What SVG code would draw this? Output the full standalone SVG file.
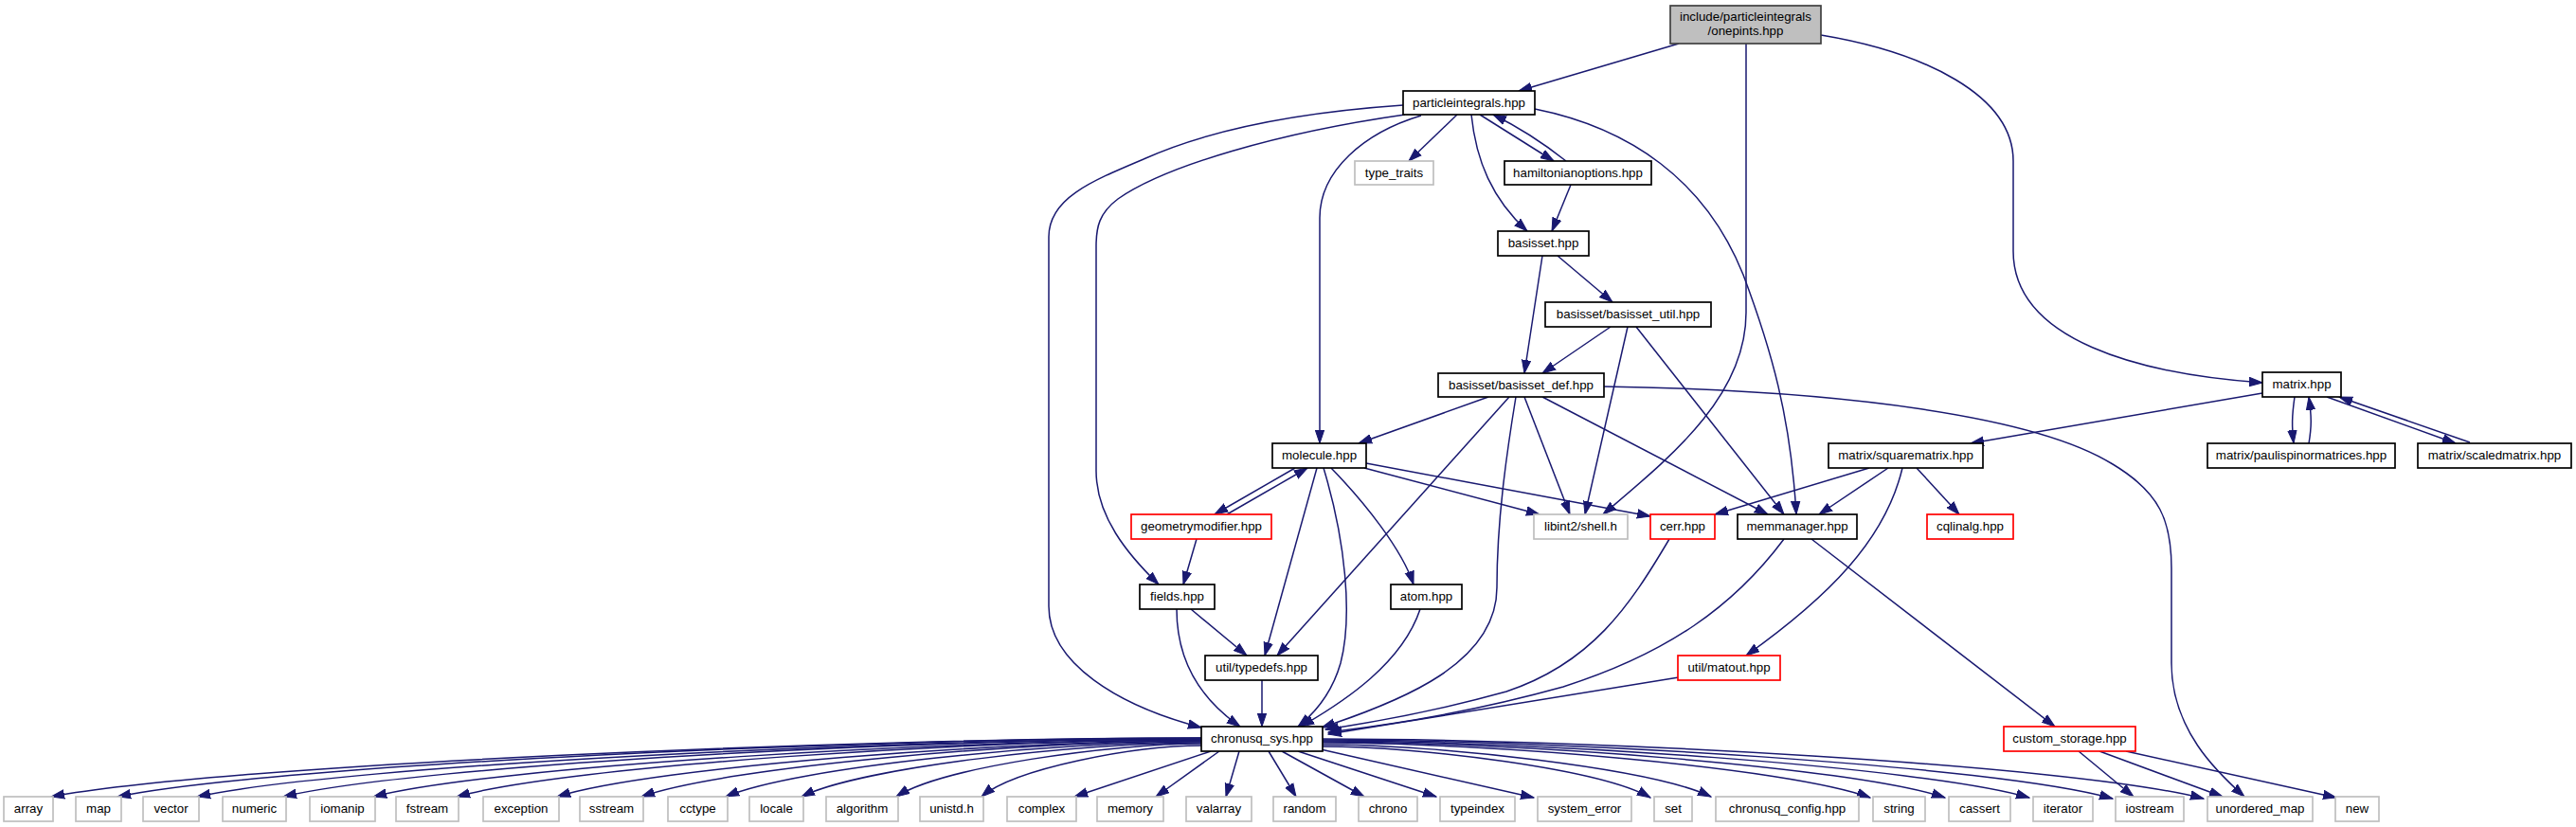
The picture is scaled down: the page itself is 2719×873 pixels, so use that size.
<svg xmlns="http://www.w3.org/2000/svg" width="2719" height="873" viewBox="0 0 2719 873">
<style>
.e path{fill:none;stroke:#191970;stroke-width:1.5;marker-end:url(#a)}
.n rect{fill:#fff;stroke:#000;stroke-width:1.7}
.g rect{stroke:#bfbfbf}
.r rect{stroke:#ff0000}
.root rect{fill:#bfbfbf;stroke:#404040}
text{font-family:"Liberation Sans",Arial,Helvetica,sans-serif;font-size:13.3px;text-anchor:middle;fill:#000}
</style>
<defs>
<marker id="a" markerWidth="15" markerHeight="11" refX="14" refY="5.5" orient="auto" markerUnits="userSpaceOnUse">
<path d="M0,0.8 L14,5.5 L0,10.2 z" fill="#191970" stroke="#191970" stroke-width="1"/>
</marker>
</defs>
<rect width="2719" height="873" fill="#fff"/>
<g id="edges" class="e">
<path d="M1772,46 L1603,96"/>
<path d="M1843,46 L1843,330 C1843,420 1760,485 1692,543"/>
<path d="M1922,37 C2030,55 2125,100 2125,170 L2125,265 C2125,360 2260,395 2388,404"/>
<path d="M1538,121 L1487,170"/>
<path d="M1562,121 L1640,170"/>
<path d="M1653,170 Q1615,140 1576,121"/>
<path d="M1553,121 C1558,170 1575,210 1612,244"/>
<path d="M1658,195 L1638,244"/>
<path d="M1620,115 C1720,135 1800,190 1840,290 C1870,370 1890,440 1896,543"/>
<path d="M1481,111 C1380,118 1280,135 1207,168 C1150,192 1107,210 1107,250 L1107,640 C1107,700 1180,745 1268,768"/>
<path d="M1483,121 C1350,140 1230,175 1180,210 C1160,225 1157,240 1157,260 L1157,497 C1157,545 1190,585 1223,617"/>
<path d="M1500,122 C1440,140 1393,180 1393,230 L1393,468"/>
<path d="M1628,270 L1609,394"/>
<path d="M1644,270 L1702,319"/>
<path d="M1700,345 L1628,394"/>
<path d="M1718,345 L1673,543"/>
<path d="M1727,345 L1883,543"/>
<path d="M1571,419 L1434,468"/>
<path d="M1609,419 L1657,543"/>
<path d="M1628,419 L1866,543"/>
<path d="M1593,419 L1348,692"/>
<path d="M1600,419 C1590,480 1580,550 1580,620 C1580,700 1480,740 1395,768"/>
<path d="M1692,408 C1950,412 2150,440 2230,490 C2280,520 2292,550 2292,600 L2292,700 C2292,770 2340,815 2369,841"/>
<path d="M1367,494 L1282,543"/>
<path d="M1295,543 L1380,494"/>
<path d="M1440,494 L1625,543"/>
<path d="M1442,489 L1742,545"/>
<path d="M1390,494 L1335,692"/>
<path d="M1397,494 C1420,570 1428,650 1415,700 C1405,735 1385,755 1370,767"/>
<path d="M1405,494 C1440,530 1480,580 1492,617"/>
<path d="M1263,569 L1249,617"/>
<path d="M1257,643 L1316,692"/>
<path d="M1242,643 C1242,700 1270,740 1309,767"/>
<path d="M1499,643 C1480,700 1420,740 1373,767"/>
<path d="M1332,718 L1332,767"/>
<path d="M1762,569 C1720,640 1680,700 1590,730 Q1500,755 1399,770"/>
<path d="M1883,569 C1830,640 1760,690 1650,725 C1560,750 1470,765 1402,773"/>
<path d="M1772,715 L1402,775"/>
<path d="M1912,569 L2169,767"/>
<path d="M2388,415 L2080,468"/>
<path d="M2422,419 C2419,440 2419,450 2421,468"/>
<path d="M2437,468 C2440,450 2440,440 2437,419"/>
<path d="M2456,419 L2592,468"/>
<path d="M2607,467 L2469,419"/>
<path d="M1973,494 L1810,543"/>
<path d="M1993,494 L1920,543"/>
<path d="M2008,494 C1990,570 1930,630 1843,692"/>
<path d="M2023,494 L2068,543"/>
<path d="M1268,779 C904,779 236,807 54,841"/>
<path d="M1268,779 C923,779 291,807 124,841"/>
<path d="M1268,780 C950,780 367,807 208,841"/>
<path d="M1268,780 C977,780 444,807 299,841"/>
<path d="M1268,781 C1006,781 525,808 394,841"/>
<path d="M1268,781 C1032,781 600,808 482,841"/>
<path d="M1268,782 C1064,782 690,809 588,841"/>
<path d="M1268,782 C1091,782 766,809 677,841"/>
<path d="M1268,783 C1117,783 841,809 766,841"/>
<path d="M1268,784 C1141,784 909,810 846,841"/>
<path d="M1268,785 C1171,785 994,810 946,841"/>
<path d="M1268,787 C1198,787 1071,811 1036,841"/>
<path d="M1278,793 L1134,841"/>
<path d="M1287,793 L1220,841"/>
<path d="M1308,793 L1294,841"/>
<path d="M1339,793 L1368,841"/>
<path d="M1353,793 L1440,841"/>
<path d="M1370,793 L1516,841"/>
<path d="M1394,791 L1619,842"/>
<path d="M1396,788 C1500,788 1690,812 1742,842"/>
<path d="M1396,786 C1518,786 1743,811 1806,841"/>
<path d="M1396,784 C1569,784 1887,810 1974,842"/>
<path d="M1396,783 C1592,783 1952,809 2053,842"/>
<path d="M1396,782 C1619,782 2028,809 2142,842"/>
<path d="M1396,781 C1646,781 2105,808 2230,843"/>
<path d="M1396,780 C1675,780 2186,807 2326,843"/>
<path d="M2194,793 L2252,841"/>
<path d="M2216,793 L2346,841"/>
<path d="M2244,793 L2466,842"/>
</g>
<g id="onepints" class="n root"><rect x="1763" y="6" width="159" height="40"/><text x="1842.5" y="22">include/particleintegrals</text><text x="1842.5" y="37">/onepints.hpp</text></g>
<g id="particleintegrals" class="n"><rect x="1481" y="96" width="139" height="25"/><text x="1550.5" y="113">particleintegrals.hpp</text></g>
<g id="type_traits" class="n g"><rect x="1430" y="170" width="83" height="25"/><text x="1471.5" y="187">type_traits</text></g>
<g id="hamiltonianoptions" class="n"><rect x="1588" y="170" width="155" height="25"/><text x="1665.5" y="187">hamiltonianoptions.hpp</text></g>
<g id="basisset" class="n"><rect x="1581" y="244" width="96" height="26"/><text x="1629" y="261">basisset.hpp</text></g>
<g id="basisset_util" class="n"><rect x="1631" y="319" width="175" height="26"/><text x="1718.5" y="336">basisset/basisset_util.hpp</text></g>
<g id="basisset_def" class="n"><rect x="1518" y="394" width="175" height="25"/><text x="1605.5" y="411">basisset/basisset_def.hpp</text></g>
<g id="molecule" class="n"><rect x="1343" y="468" width="99" height="26"/><text x="1392.5" y="485">molecule.hpp</text></g>
<g id="geometrymodifier" class="n r"><rect x="1194" y="543" width="148" height="26"/><text x="1268" y="560">geometrymodifier.hpp</text></g>
<g id="libint2_shell" class="n g"><rect x="1619" y="543" width="99" height="26"/><text x="1668.5" y="560">libint2/shell.h</text></g>
<g id="cerr" class="n r"><rect x="1742" y="543" width="68" height="26"/><text x="1776" y="560">cerr.hpp</text></g>
<g id="memmanager" class="n"><rect x="1834" y="543" width="126" height="26"/><text x="1897" y="560">memmanager.hpp</text></g>
<g id="matrix" class="n"><rect x="2388" y="393" width="83" height="26"/><text x="2429.5" y="410">matrix.hpp</text></g>
<g id="squarematrix" class="n"><rect x="1930" y="468" width="163" height="26"/><text x="2011.5" y="485">matrix/squarematrix.hpp</text></g>
<g id="paulispinormatrices" class="n"><rect x="2330" y="468" width="198" height="26"/><text x="2429" y="485">matrix/paulispinormatrices.hpp</text></g>
<g id="scaledmatrix" class="n"><rect x="2552" y="468" width="162" height="26"/><text x="2633" y="485">matrix/scaledmatrix.hpp</text></g>
<g id="cqlinalg" class="n r"><rect x="2034" y="543" width="91" height="26"/><text x="2079.5" y="560">cqlinalg.hpp</text></g>
<g id="fields" class="n"><rect x="1203" y="617" width="79" height="26"/><text x="1242.5" y="634">fields.hpp</text></g>
<g id="atom" class="n"><rect x="1468" y="617" width="75" height="26"/><text x="1505.5" y="634">atom.hpp</text></g>
<g id="typedefs" class="n"><rect x="1272" y="692" width="119" height="26"/><text x="1331.5" y="709">util/typedefs.hpp</text></g>
<g id="matout" class="n r"><rect x="1771" y="692" width="108" height="26"/><text x="1825" y="709">util/matout.hpp</text></g>
<g id="chronusq_sys" class="n"><rect x="1268" y="767" width="128" height="26"/><text x="1332" y="784">chronusq_sys.hpp</text></g>
<g id="custom_storage" class="n r"><rect x="2115" y="767" width="139" height="26"/><text x="2184.5" y="784">custom_storage.hpp</text></g>
<g id="array" class="n g"><rect x="4" y="841" width="52" height="26"/><text x="30" y="858">array</text></g>
<g id="map" class="n g"><rect x="80" y="841" width="48" height="26"/><text x="104" y="858">map</text></g>
<g id="vector" class="n g"><rect x="151" y="841" width="59" height="26"/><text x="180.5" y="858">vector</text></g>
<g id="numeric" class="n g"><rect x="235" y="841" width="67" height="26"/><text x="268.5" y="858">numeric</text></g>
<g id="iomanip" class="n g"><rect x="327" y="841" width="69" height="26"/><text x="361.5" y="858">iomanip</text></g>
<g id="fstream" class="n g"><rect x="418" y="841" width="66" height="26"/><text x="451" y="858">fstream</text></g>
<g id="exception" class="n g"><rect x="510" y="841" width="80" height="26"/><text x="550" y="858">exception</text></g>
<g id="sstream" class="n g"><rect x="612" y="841" width="67" height="26"/><text x="645.5" y="858">sstream</text></g>
<g id="cctype" class="n g"><rect x="705" y="841" width="63" height="26"/><text x="736.5" y="858">cctype</text></g>
<g id="locale" class="n g"><rect x="791" y="841" width="57" height="26"/><text x="819.5" y="858">locale</text></g>
<g id="algorithm" class="n g"><rect x="872" y="841" width="76" height="26"/><text x="910" y="858">algorithm</text></g>
<g id="unistd" class="n g"><rect x="971" y="841" width="67" height="26"/><text x="1004.5" y="858">unistd.h</text></g>
<g id="complex" class="n g"><rect x="1063" y="841" width="73" height="26"/><text x="1099.5" y="858">complex</text></g>
<g id="memory" class="n g"><rect x="1158" y="841" width="70" height="26"/><text x="1193" y="858">memory</text></g>
<g id="valarray" class="n g"><rect x="1252" y="841" width="69" height="26"/><text x="1286.5" y="858">valarray</text></g>
<g id="random" class="n g"><rect x="1344" y="841" width="66" height="26"/><text x="1377" y="858">random</text></g>
<g id="chrono" class="n g"><rect x="1434" y="841" width="62" height="26"/><text x="1465" y="858">chrono</text></g>
<g id="typeindex" class="n g"><rect x="1520" y="841" width="79" height="26"/><text x="1559.5" y="858">typeindex</text></g>
<g id="system_error" class="n g"><rect x="1623" y="841" width="99" height="26"/><text x="1672.5" y="858">system_error</text></g>
<g id="set" class="n g"><rect x="1746" y="841" width="40" height="26"/><text x="1766" y="858">set</text></g>
<g id="chronusq_config" class="n g"><rect x="1811" y="841" width="151" height="26"/><text x="1886.5" y="858">chronusq_config.hpp</text></g>
<g id="string" class="n g"><rect x="1977" y="841" width="55" height="26"/><text x="2004.5" y="858">string</text></g>
<g id="cassert" class="n g"><rect x="2057" y="841" width="65" height="26"/><text x="2089.5" y="858">cassert</text></g>
<g id="iterator" class="n g"><rect x="2146" y="841" width="63" height="26"/><text x="2177.5" y="858">iterator</text></g>
<g id="iostream" class="n g"><rect x="2233" y="841" width="72" height="26"/><text x="2269" y="858">iostream</text></g>
<g id="unordered_map" class="n g"><rect x="2330" y="841" width="111" height="26"/><text x="2385.5" y="858">unordered_map</text></g>
<g id="new" class="n g"><rect x="2465" y="841" width="46" height="26"/><text x="2488" y="858">new</text></g>
</svg>
